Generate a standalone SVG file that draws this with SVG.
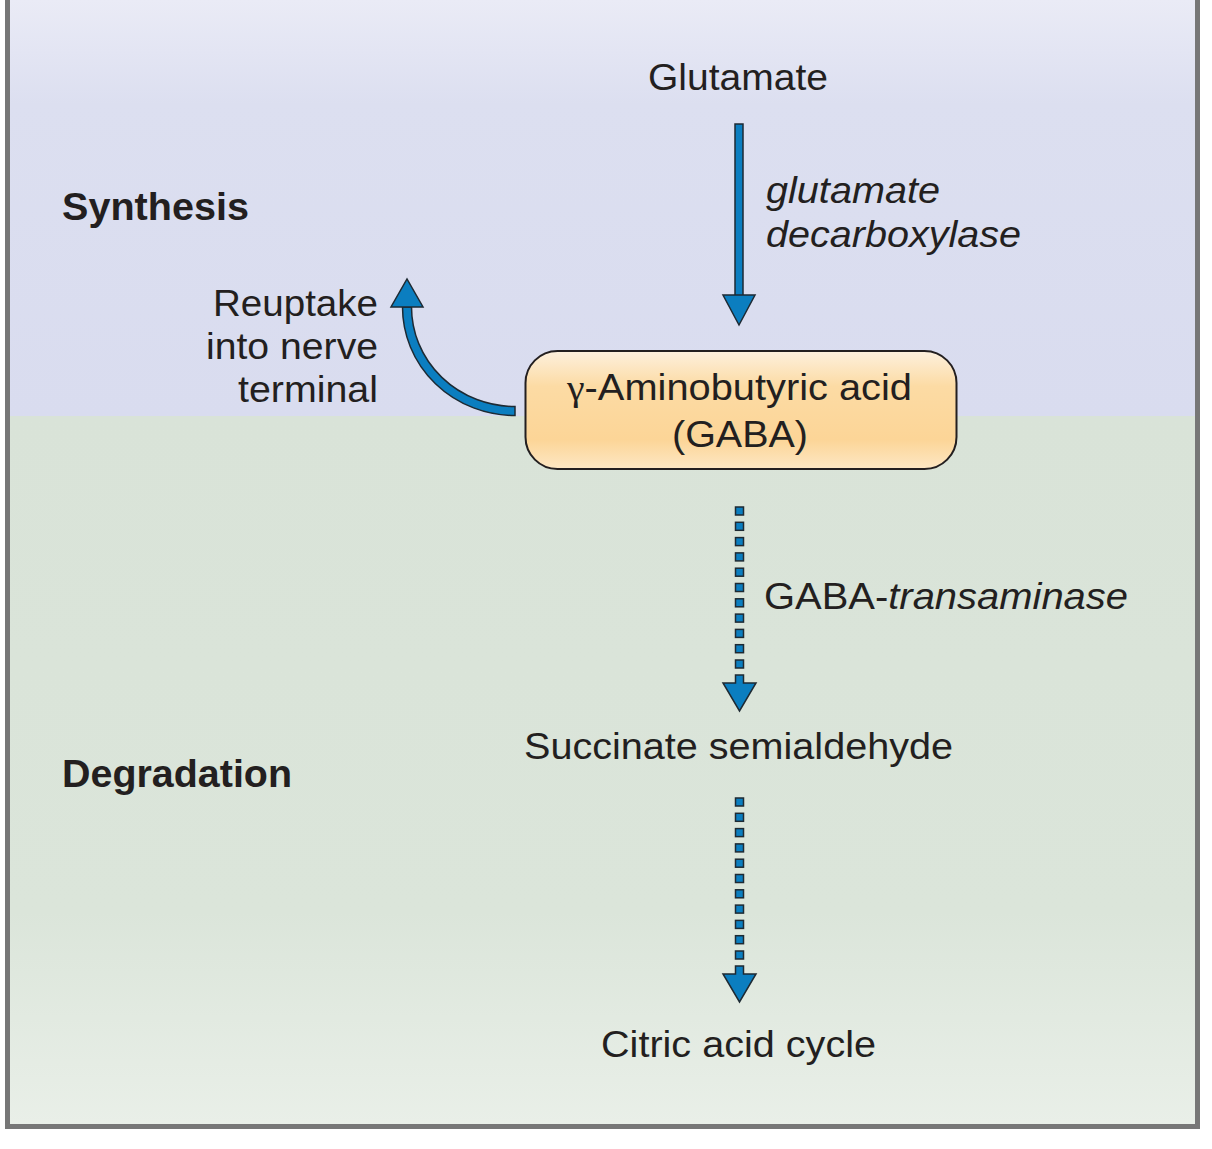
<svg xmlns="http://www.w3.org/2000/svg" xmlns:xlink="http://www.w3.org/1999/xlink" width="1212" height="1149" viewBox="0 0 1212 1149">
<style>
.t{font-family:"Liberation Sans",Arial,Helvetica,sans-serif;font-size:36px;fill:#231f20}
.b{font-family:"Liberation Sans",Arial,Helvetica,sans-serif;font-size:39px;font-weight:bold;fill:#231f20}
.i{font-style:italic}
.arr{fill:#0b7ec0;stroke:#1e2a33;stroke-width:1.5;stroke-linejoin:miter}
</style>
<defs>
<linearGradient id="gTop" x1="0" y1="0" x2="0" y2="1">
<stop offset="0" stop-color="#eaebf6"/>
<stop offset="0.25" stop-color="#dcdff0"/>
<stop offset="1" stop-color="#d9dcef"/>
</linearGradient>
<linearGradient id="gBot" x1="0" y1="0" x2="0" y2="1">
<stop offset="0" stop-color="#d9e3d8"/>
<stop offset="0.7" stop-color="#dbe5da"/>
<stop offset="1" stop-color="#e9efe8"/>
</linearGradient>
<linearGradient id="gBox" x1="0" y1="0" x2="0" y2="1">
<stop offset="0" stop-color="#fdf0dd"/>
<stop offset="0.3" stop-color="#fcdba4"/>
<stop offset="0.75" stop-color="#fcd597"/>
<stop offset="1" stop-color="#fde7c4"/>
</linearGradient>
<rect id="sq" class="arr" width="8" height="8"/>
</defs>

<rect x="0" y="0" width="1212" height="1149" fill="#ffffff"/>
<g id="background">
<rect x="10" y="0" width="1185" height="416" fill="url(#gTop)"/>
<rect x="10" y="416" width="1185" height="708" fill="url(#gBot)"/>
<path d="M7.5,0 V1126.5 H1197.5 V0" fill="none" stroke="#777777" stroke-width="5"/>
</g>

<g id="labels">
<text class="b" x="62" y="220" textLength="187" lengthAdjust="spacingAndGlyphs">Synthesis</text>
<text class="b" x="62" y="787" textLength="230" lengthAdjust="spacingAndGlyphs">Degradation</text>
</g>

<g id="connectors">
<g id="arrow-glutamate-gaba">
<rect class="arr" x="735" y="124" width="8" height="172"/>
<polygon class="arr" points="723,295 755,295 739,325"/>
</g>
<g id="arrow-reuptake">
<path class="arr" d="M515,415.5 A112.5,108.5 0 0 1 402.5,307 L411.5,307 A103.5,99.5 0 0 0 515,406.5 Z"/>
<polygon class="arr" points="391,307 423,307 407,279"/>
</g>
<g id="arrow-gaba-succinate">
<use xlink:href="#sq" x="735.5" y="507"/>
<use xlink:href="#sq" x="735.5" y="522.3"/>
<use xlink:href="#sq" x="735.5" y="537.6"/>
<use xlink:href="#sq" x="735.5" y="552.9"/>
<use xlink:href="#sq" x="735.5" y="568.2"/>
<use xlink:href="#sq" x="735.5" y="583.5"/>
<use xlink:href="#sq" x="735.5" y="598.8"/>
<use xlink:href="#sq" x="735.5" y="614.1"/>
<use xlink:href="#sq" x="735.5" y="629.4"/>
<use xlink:href="#sq" x="735.5" y="644.7"/>
<use xlink:href="#sq" x="735.5" y="660"/>
<polygon class="arr" points="735.5,675 743.5,675 743.5,683 756,683 739.5,711 723,683 735.5,683"/>
</g>
<g id="arrow-succinate-citric">
<use xlink:href="#sq" x="735.5" y="798"/>
<use xlink:href="#sq" x="735.5" y="813.3"/>
<use xlink:href="#sq" x="735.5" y="828.6"/>
<use xlink:href="#sq" x="735.5" y="843.9"/>
<use xlink:href="#sq" x="735.5" y="859.2"/>
<use xlink:href="#sq" x="735.5" y="874.5"/>
<use xlink:href="#sq" x="735.5" y="889.8"/>
<use xlink:href="#sq" x="735.5" y="905.1"/>
<use xlink:href="#sq" x="735.5" y="920.4"/>
<use xlink:href="#sq" x="735.5" y="935.7"/>
<use xlink:href="#sq" x="735.5" y="951"/>
<polygon class="arr" points="735.5,966 743.5,966 743.5,974 756,974 739.5,1002 723,974 735.5,974"/>
</g>
<text class="t i" x="766" y="203" textLength="174" lengthAdjust="spacingAndGlyphs">glutamate</text>
<text class="t i" x="766" y="247" textLength="255" lengthAdjust="spacingAndGlyphs">decarboxylase</text>
<text class="t" x="764" y="609" textLength="364" lengthAdjust="spacingAndGlyphs">GABA-<tspan class="i">transaminase</tspan></text>
<text class="t" x="378" y="316" text-anchor="end" textLength="165" lengthAdjust="spacingAndGlyphs">Reuptake</text>
<text class="t" x="378" y="359" text-anchor="end" textLength="172" lengthAdjust="spacingAndGlyphs">into nerve</text>
<text class="t" x="378" y="402" text-anchor="end" textLength="140" lengthAdjust="spacingAndGlyphs">terminal</text>
</g>

<g id="node-glutamate">
<text class="t" x="648" y="90" textLength="180" lengthAdjust="spacingAndGlyphs">Glutamate</text>
</g>
<g id="node-gaba">
<rect x="525.5" y="351" width="431" height="118" rx="32" ry="32" fill="url(#gBox)" stroke="#231f20" stroke-width="2"/>
<text class="t" x="567" y="400" textLength="345" lengthAdjust="spacingAndGlyphs"><tspan style="font-family:'Liberation Serif','DejaVu Serif',serif">γ</tspan>-Aminobutyric acid</text>
<text class="t" x="672" y="447" textLength="136" lengthAdjust="spacingAndGlyphs">(GABA)</text>
</g>
<g id="node-succinate">
<text class="t" x="524" y="759" textLength="429" lengthAdjust="spacingAndGlyphs">Succinate semialdehyde</text>
</g>
<g id="node-citric">
<text class="t" x="601" y="1057" textLength="275" lengthAdjust="spacingAndGlyphs">Citric acid cycle</text>
</g>
</svg>
